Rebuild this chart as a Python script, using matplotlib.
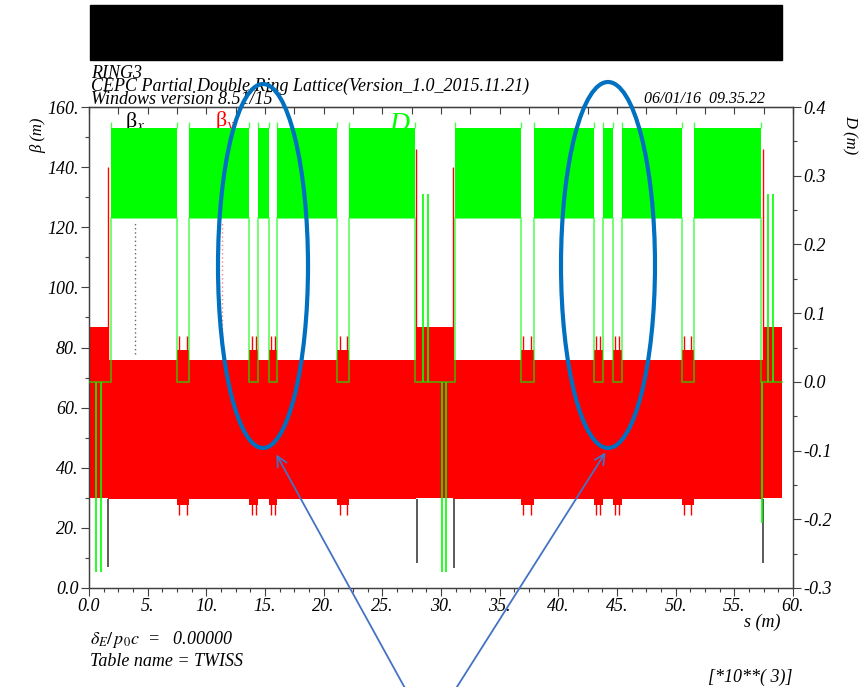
import matplotlib.pyplot as plt
import numpy as np
from matplotlib.patches import Ellipse, Rectangle, FancyArrowPatch
from matplotlib.ticker import MultipleLocator, FuncFormatter

plt.rcParams['font.family'] = ['Liberation Serif', 'DejaVu Serif']
plt.rcParams['mathtext.fontset'] = 'stix'

# s in units of 10^3 m, beta in m, D in m

# FODO arcs (beta band, both planes)
arc_start = [1.62, 31.03]
arc_end = [27.88, 57.46]
beta_arc = [29.7, 75.8]

# dispersion band inside the arcs
disp_start = [1.85, 31.20]
disp_end = [27.80, 57.30]
disp_arc = [0.238, 0.369]
disp_edge_peak = 0.378

# dispersion-free insertions inside the arcs
gap_start = [7.48, 13.67, 15.32, 21.17, 36.83, 43.02, 44.67, 50.52]
gap_end = [8.54, 14.43, 16.05, 22.19, 37.89, 43.78, 45.40, 51.54]
beta_gap = [27.7, 79.3]
beta_gap_peak = [24.3, 83.8]

# matching / straight sections
ss_start = [0.09, 27.88, 57.46]
ss_end = [1.62, 31.03, 59.07]
beta_ss = [30.0, 86.7]

# isolated peaks
by_peak_s = [1.62, 27.88, 31.03, 57.42]
by_peak = [140.0, 146.0, 140.0, 146.0]
bx_dip_s = [1.66, 27.94, 31.07, 57.44]
bx_dip = [7.0, 8.3, 6.7, 8.3]
disp_peak_s = [0.60, 1.02, 28.47, 28.90, 30.07, 30.43, 57.40, 57.90, 58.30]
disp_peak = [-0.276, -0.276, 0.273, 0.273, -0.276, -0.276, -0.205, 0.273, 0.273]

W, H = 867, 687
fig = plt.figure(figsize=(W / 100, H / 100), dpi=100)
ax = fig.add_axes([89 / W, 1 - 588 / H, 704 / W, 481 / H])
ax2 = ax.twinx()

RED = '#ff0000'
GREEN = '#00ff00'

# beta functions
for s0, s1 in zip(arc_start, arc_end):
    ax.fill_between([s0, s1], beta_arc[0], beta_arc[1], color='black', lw=0, zorder=1)
    ax.fill_between([s0, s1], beta_arc[0], beta_arc[1], color=RED, lw=0, zorder=2)
for s0, s1 in zip(ss_start, ss_end):
    ax.fill_between([s0, s1], beta_ss[0], beta_ss[1], color=RED, lw=0, zorder=2)
for s0, s1 in zip(gap_start, gap_end):
    ax.fill_between([s0, s1], beta_gap[0], beta_gap[1], color=RED, lw=0, zorder=2)
    ax.vlines([s0 + 0.2, s1 - 0.2], beta_gap_peak[0], beta_gap_peak[1], color=RED, lw=1, zorder=2)
ax.vlines(bx_dip_s, bx_dip, beta_arc[0], color='0.3', lw=1.3, zorder=1)
ax.vlines(by_peak_s, beta_arc[1], by_peak, color=RED, lw=1, zorder=2)

# legend-like dotted markers
ax.vlines([3.9], 77.7, 122, color='0.4', lw=1, ls=(0, (1, 2)))
ax.vlines([11.3], 77.7, 122, color=RED, lw=1, ls=(0, (1, 2)), alpha=0.5)

# dispersion: piecewise levels between all section edges
edges = sorted(set(ss_start + ss_end + disp_start + disp_end + gap_start + gap_end))
lo, hi = [], []
for a, b in zip(edges[:-1], edges[1:]):
    m = 0.5 * (a + b)
    in_arc = any(s0 <= m <= s1 for s0, s1 in zip(disp_start, disp_end))
    in_gap = any(s0 <= m <= s1 for s0, s1 in zip(gap_start, gap_end))
    if in_arc and not in_gap:
        lo.append(disp_arc[0]); hi.append(disp_arc[1])
    else:
        lo.append(0.0); hi.append(0.0)
lo.append(lo[-1]); hi.append(hi[-1])
ax2.fill_between(edges, lo, hi, step='post', color=GREEN, lw=0, zorder=3)
ax2.step(edges, lo, where='post', color=GREEN, lw=1.4, alpha=0.55, zorder=3)
ax2.vlines(gap_start + gap_end + disp_start + disp_end, disp_arc[1], disp_edge_peak,
           color=GREEN, lw=1, alpha=0.7)
ax2.vlines(disp_peak_s, 0, disp_peak, color=GREEN, lw=1.2, zorder=4)

# axes styling
ax.set_xlim(0, 60)
ax.set_ylim(0, 160)
ax2.set_ylim(-0.3, 0.4)
for a in (ax, ax2):
    for sp in a.spines.values():
        sp.set_color('0.25')
        sp.set_linewidth(0.9)

ax.xaxis.set_major_locator(MultipleLocator(5))
ax.xaxis.set_minor_locator(MultipleLocator(1.25))
ax.yaxis.set_major_locator(MultipleLocator(20))
ax.yaxis.set_minor_locator(MultipleLocator(10))
ax2.yaxis.set_major_locator(MultipleLocator(0.1))
ax2.yaxis.set_minor_locator(MultipleLocator(0.05))
ax.xaxis.set_major_formatter(FuncFormatter(lambda v, p: '0.0' if abs(v) < 1e-9 else f'{v:.0f}.'))
ax.yaxis.set_major_formatter(FuncFormatter(lambda v, p: '0.0' if abs(v) < 1e-9 else f'{v:.0f}.'))
ax2.yaxis.set_major_formatter(FuncFormatter(lambda v, p: f'{v:.1f}' if abs(v) > 1e-9 else '0.0'))
ax.tick_params(axis='both', which='major', direction='out', length=6, width=0.8, pad=1.5, color='0.25')
ax.tick_params(axis='both', which='minor', direction='out', length=3, width=0.8, color='0.25')
ax2.tick_params(axis='y', which='major', direction='out', length=6, width=0.8, pad=1.5, color='0.25')
ax2.tick_params(axis='y', which='minor', direction='out', length=3, width=0.8, color='0.25')
for lab in ax.get_xticklabels() + ax.get_yticklabels() + ax2.get_yticklabels():
    lab.set_fontstyle('italic')
    lab.set_fontsize(13)

top = ax.secondary_xaxis('top')
top.set_xticks(np.arange(0, 60.1, 2.5))
top.tick_params(direction='in', length=5, width=0.8, labeltop=False, color='0.25')
top.spines['top'].set_color('0.25')

# curve labels
ax.text(3.1, 151, 'β$_{x}$', fontsize=16, color='black', va='bottom')
ax.text(10.7, 151, 'β$_{y}$', fontsize=16, color=RED, va='bottom')
ax.text(25.6, 150, 'D', fontsize=20, color=GREEN, fontstyle='italic', va='bottom')

# header / footer text
def ft(x, y, s, **kw):
    fig.text(x / W, 1 - y / H, s, fontstyle='italic', **kw)

ft(91, 78, 'RING3', fontsize=13, va='baseline')
ft(91, 91, 'CEPC Partial Double Ring Lattice(Version_1.0_2015.11.21)', fontsize=13, va='baseline')
ft(91, 104, 'Windows version 8.51/15', fontsize=13, va='baseline')
ft(765, 103, '06/01/16  09.35.22', fontsize=11.5, va='baseline', ha='right')
ft(38, 135, 'β (m)', fontsize=12, va='center', ha='center', rotation=90)
ft(850, 135, 'D (m)', fontsize=12, va='center', ha='center', rotation=270)
ft(780, 622, 's (m)', fontsize=13, va='center', ha='right')
ft(90, 640, r'$\delta_{E}/\,p_{0}c$  =   0.00000', fontsize=13, va='center')
ft(90, 661, 'Table name = TWISS', fontsize=13, va='center')
ft(792, 677, '[*10**( 3)]', fontsize=13, va='center', ha='right')

# redaction box
fig.add_artist(Rectangle((90 / W, 1 - 60 / H), 692 / W, 55 / H, transform=fig.transFigure,
                         color='black', zorder=10))

# annotation ellipses and arrows
for cx, cy, ew, eh in [(263, 266, 90, 364), (608, 265, 94, 366)]:
    fig.add_artist(Ellipse((cx / W, 1 - cy / H), ew / W, eh / H, transform=fig.transFigure,
                           fill=False, ec='#0070c0', lw=3, zorder=10))
for x0, y0, x1, y1 in [(406, 690, 275, 452), (455, 690, 607, 450)]:
    fig.add_artist(FancyArrowPatch((x0 / W, 1 - y0 / H), (x1 / W, 1 - y1 / H),
                                   transform=fig.transFigure, arrowstyle='->',
                                   mutation_scale=18, color='#4472c4', lw=1.3, zorder=10))

fig.savefig('out.png', dpi=100, facecolor='white')
